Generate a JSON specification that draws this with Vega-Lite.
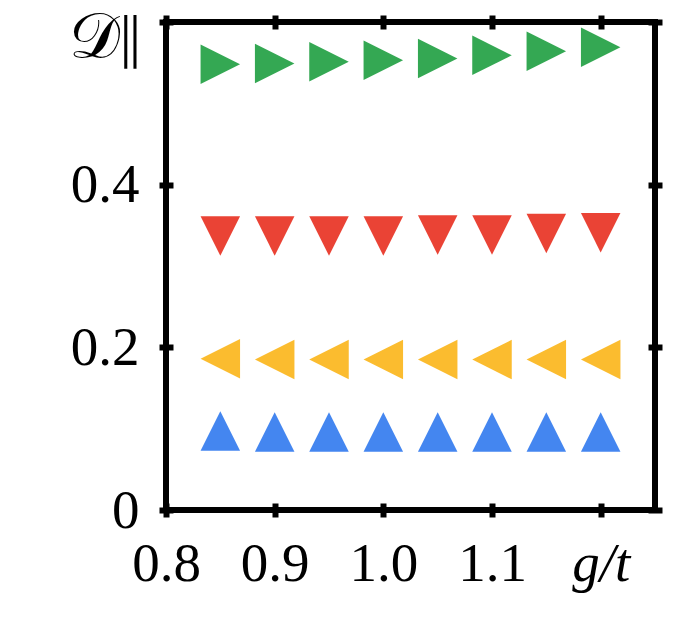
{
  "$schema": "https://vega.github.io/schema/vega-lite/v6.json",
  "autosize": {"type": "none"},
  "padding": {"left": 166, "top": 22, "right": 22, "bottom": 112},
  "width": 489,
  "height": 488,
  "background": "white",
  "config": {
    "view": {"stroke": "black", "strokeWidth": 6},
    "axis": {
      "domain": false,
      "grid": false,
      "ticks": true,
      "tickColor": "black",
      "tickWidth": 6,
      "tickSize": 14,
      "offset": -7,
      "labelFont": "Liberation Serif",
      "labelFontSize": 55,
      "labelColor": "black",
      "labelFlush": false,
      "labelOverlap": false,
      "title": null
    }
  },
  "data": {
    "values": [
      {"g": 0.85, "D": 0.548, "s": "green"},
      {"g": 0.90, "D": 0.549, "s": "green"},
      {"g": 0.95, "D": 0.551, "s": "green"},
      {"g": 1.00, "D": 0.553, "s": "green"},
      {"g": 1.05, "D": 0.555, "s": "green"},
      {"g": 1.10, "D": 0.559, "s": "green"},
      {"g": 1.15, "D": 0.564, "s": "green"},
      {"g": 1.20, "D": 0.569, "s": "green"},
      {"g": 0.85, "D": 0.337, "s": "red"},
      {"g": 0.90, "D": 0.337, "s": "red"},
      {"g": 0.95, "D": 0.337, "s": "red"},
      {"g": 1.00, "D": 0.337, "s": "red"},
      {"g": 1.05, "D": 0.338, "s": "red"},
      {"g": 1.10, "D": 0.338, "s": "red"},
      {"g": 1.15, "D": 0.340, "s": "red"},
      {"g": 1.20, "D": 0.341, "s": "red"},
      {"g": 0.85, "D": 0.186, "s": "yellow"},
      {"g": 0.90, "D": 0.185, "s": "yellow"},
      {"g": 0.95, "D": 0.185, "s": "yellow"},
      {"g": 1.00, "D": 0.185, "s": "yellow"},
      {"g": 1.05, "D": 0.185, "s": "yellow"},
      {"g": 1.10, "D": 0.185, "s": "yellow"},
      {"g": 1.15, "D": 0.185, "s": "yellow"},
      {"g": 1.20, "D": 0.185, "s": "yellow"},
      {"g": 0.85, "D": 0.097, "s": "blue"},
      {"g": 0.90, "D": 0.096, "s": "blue"},
      {"g": 0.95, "D": 0.096, "s": "blue"},
      {"g": 1.00, "D": 0.096, "s": "blue"},
      {"g": 1.05, "D": 0.096, "s": "blue"},
      {"g": 1.10, "D": 0.096, "s": "blue"},
      {"g": 1.15, "D": 0.096, "s": "blue"},
      {"g": 1.20, "D": 0.096, "s": "blue"}
    ]
  },
  "layer": [
    {
      "mark": {"type": "point", "filled": true, "opacity": 1, "size": 1560, "strokeWidth": 0},
      "encoding": {
        "x": {
          "field": "g", "type": "quantitative",
          "scale": {"domain": [0.8, 1.25], "nice": false, "zero": false},
          "axis": {
            "orient": "bottom",
            "values": [0.8, 0.9, 1.0, 1.1, 1.2],
            "labelPadding": 20,
            "labelExpr": "datum.value > 1.19 ? 'g/t' : format(datum.value, '.1f')",
            "labelFontStyle": {"condition": {"test": "datum.value > 1.19", "value": "italic"}, "value": "normal"}
          }
        },
        "y": {
          "field": "D", "type": "quantitative",
          "scale": {"domain": [0, 0.6], "nice": false},
          "axis": {
            "orient": "left",
            "values": [0, 0.2, 0.4, 0.6],
            "labelPadding": 20,
            "labelExpr": "datum.value > 0.59 ? '𝒟∥' : (datum.value == 0 ? '0' : format(datum.value, '.1f'))",
            "labelOffset": {"condition": {"test": "datum.value > 0.59", "value": 16}, "value": 0},
            "labelFontSize": {"condition": {"test": "datum.value > 0.59", "value": 64}, "value": 55}
          }
        },
        "shape": {
          "field": "s", "type": "nominal", "legend": null,
          "scale": {
            "domain": ["green", "red", "yellow", "blue"],
            "range": ["M-1,-1L1,0L-1,1Z", "M-1,-1L1,-1L0,1Z", "M-1,0L1,-1L1,1Z", "M0,-1L1,1L-1,1Z"]
          }
        },
        "color": {
          "field": "s", "type": "nominal", "legend": null,
          "scale": {
            "domain": ["green", "red", "yellow", "blue"],
            "range": ["#34a853", "#ea4335", "#fbbc2f", "#4486f0"]
          }
        }
      }
    },
    {
      "mark": {"type": "point", "opacity": 0},
      "encoding": {
        "x": {
          "field": "g", "type": "quantitative",
          "axis": {"orient": "top", "values": [0.8, 0.9, 1.0, 1.1, 1.2], "labels": false}
        },
        "y": {
          "field": "D", "type": "quantitative",
          "axis": {"orient": "right", "values": [0, 0.2, 0.4, 0.6], "labels": false}
        }
      }
    }
  ],
  "resolve": {"axis": {"x": "independent", "y": "independent"}}
}
